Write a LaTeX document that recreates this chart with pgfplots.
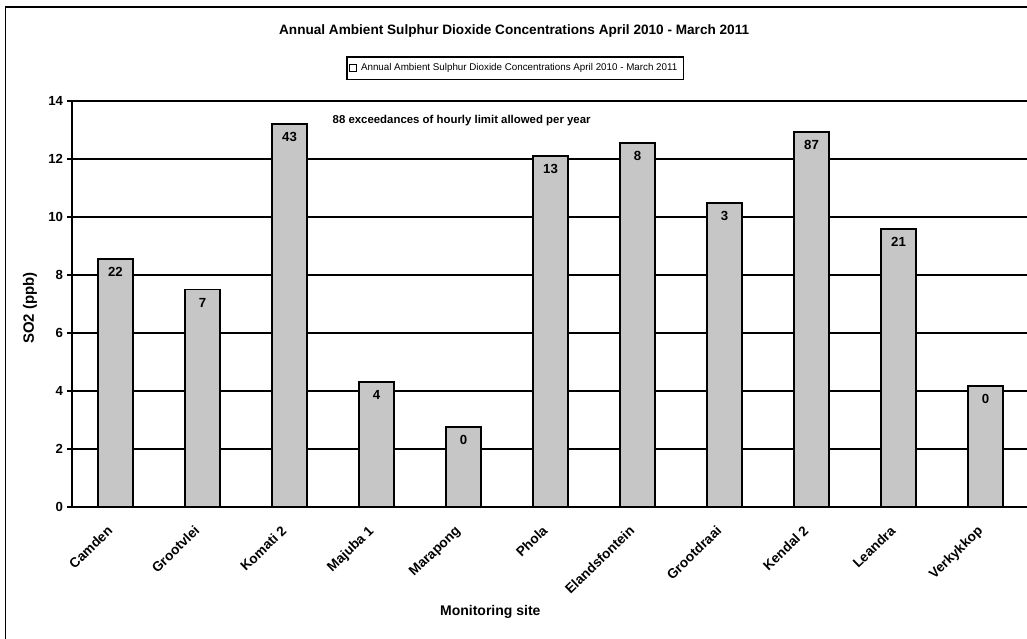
\documentclass[border=0pt]{standalone}
\usepackage{pgfplots}
\pgfplotsset{compat=1.18}
\usepackage{fontspec}
\setmainfont{Liberation Sans}
\begin{document}
\begin{tikzpicture}
\useasboundingbox (0,0) rectangle (513.5pt,319pt);
\draw[line width=0.8pt] (2.8pt,-20pt) rectangle (600pt,315.5pt);
\begin{axis}[
  at={(36pt,65.5pt)}, anchor=south west,
  scale only axis, width=477.5pt, height=203pt,
  ybar, bar width=17.5pt,
  xmin=-0.5, xmax=10.477, ymin=0, ymax=14,
  ytick={0,2,...,14},
  xtick={0,...,10},
  xticklabels={Camden,Grootvlei,Komati 2,Majuba 1,Marapong,Phola,Elandsfontein,Grootdraai,Kendal 2,Leandra,Verkykkop},
  xtick style={draw=none},
  ytick style={black, line width=0.6pt},
  tick align=outside, major tick length=2.5pt,
  axis x line*=bottom, axis y line*=left,
  axis line style={line width=1pt, black},
  ymajorgrids, grid style={black, line width=0.7pt},
  /pgf/number format/assume math mode=true,
  yticklabel style={font=\fontsize{6.6}{7}\selectfont\bfseries, xshift=1.5pt},
  xticklabel style={font=\fontsize{6.8}{7}\selectfont\bfseries, inner sep=0.5pt, xshift=-4.5pt, yshift=-5.5pt, rotate=44, anchor=north east},
  title={Annual Ambient Sulphur Dioxide Concentrations April 2010 - March 2011},
  title style={font=\fontsize{6.8}{7}\selectfont\bfseries, at={(0.463,1.143)}, anchor=center},
  xlabel={Monitoring site},
  xlabel style={font=\fontsize{7}{8}\selectfont\bfseries, at={(0.438,-0.259)}, anchor=center},
  ylabel={SO2 (ppb)},
  ylabel style={font=\fontsize{7.5}{8}\selectfont\bfseries, at={(-0.044,0.49)}, anchor=center},
  legend style={at={(0.464,1.081)}, anchor=center, draw=black, line width=0.6pt,
    font=\fontsize{4.9}{5.5}\selectfont, inner sep=1pt},
  legend image code/.code={\draw[black, line width=0.45pt, fill=white] (0pt,-1.8pt) rectangle (3.6pt,1.8pt);},
  nodes near coords, point meta=explicit symbolic,
  nodes near coords style={anchor=north, font=\fontsize{6.6}{7}\selectfont\bfseries, yshift=-0.5pt},
]
\addplot[fill=gray!45, draw=black, line width=0.9pt] table[meta=lab] {
x y lab
0 8.55 22
1 7.50 7
2 13.20 43
3 4.32 4
4 2.77 0
5 12.11 13
6 12.56 8
7 10.49 3
8 12.94 87
9 9.59 21
10 4.18 0
};
\addlegendentry{Annual Ambient Sulphur Dioxide Concentrations April 2010 - March 2011}
\node[font=\fontsize{5.7}{6}\selectfont\bfseries] at (rel axis cs:0.408,0.953) {88 exceedances of hourly limit allowed per year};
\end{axis}
\end{tikzpicture}
\end{document}
